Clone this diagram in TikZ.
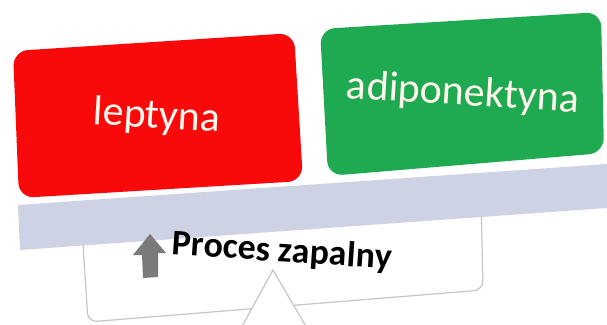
\documentclass[tikz,border=0pt]{standalone}
\usepackage{fontspec}
\setmainfont{Carlito}
\definecolor{boxred}{HTML}{F80A0A}
\definecolor{boxgreen}{HTML}{1FAA52}
\definecolor{bandblue}{HTML}{CDD3E4}
\definecolor{framegray}{HTML}{C6C6CA}
\definecolor{arrowgray}{HTML}{7A7A7A}
\definecolor{labelwhite}{HTML}{FFF6EC}
\tikzset{
  tile/.style={rounded corners=15pt},
  tilelabel/.style={text=labelwhite, font=\fontsize{42}{42}\selectfont, rotate=-3.5, inner sep=0pt},
  headline/.style={text=black, font=\bfseries\fontsize{36}{36}\selectfont, rotate=-3.8, inner sep=0pt},
}
\begin{document}
\begin{tikzpicture}[x=1pt,y=-1pt]
\useasboundingbox (0,0) rectangle (607,324);
\fill[white] (0,0) rectangle (607,324);

% lower frame with its pointer
\draw[framegray, line width=1.2pt, fill=white, rounded corners=9pt]
  (82,228) -- (481,198) -- (483,290) -- (88,322) -- cycle;
\fill[white] (273,270) -- (308,330) -- (240,330) -- cycle;
\draw[framegray, line width=1.2pt] (240,330) -- (273,270) -- (308,330);

% pale band
\fill[bandblue] (18,205) -- (607,164) -- (607,208) -- (20,250) -- cycle;

% coloured tiles
\fill[boxred, tile] (13,51) -- (294,33) -- (303,181) -- (19,198) -- cycle;
\fill[boxgreen, tile] (320,29) -- (601,12) -- (604,153) -- (328,176) -- cycle;

\node[tilelabel] (lep) at (157,117) {leptyna};
\node[tilelabel] (adi) at (463,94) {adiponektyna};

% up arrow and heading
\fill[arrowgray] (150,234) -- (166,253) -- (158,253) -- (158,277) -- (143,278) -- (142,255) -- (133,255) -- cycle;
\node[headline] (proc) at (282,252) {Proces zapalny};
\end{tikzpicture}
\end{document}
